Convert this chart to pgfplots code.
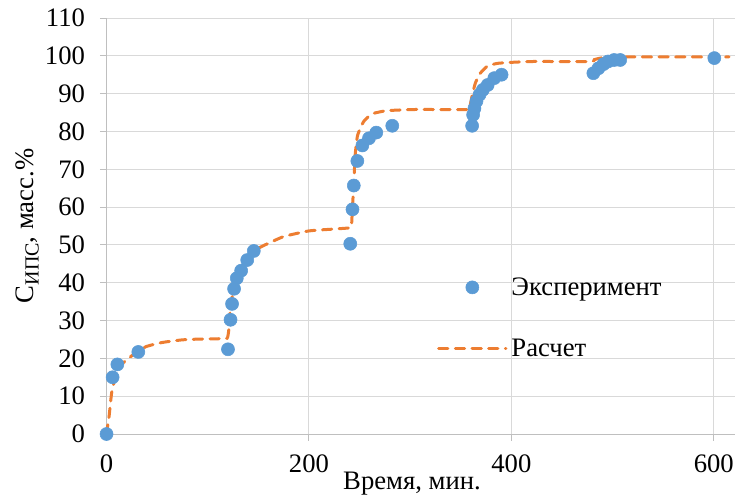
\documentclass[border=0pt]{standalone}
\usepackage{fontspec}
\setmainfont{Liberation Serif}
\usepackage{pgfplots}
\pgfplotsset{compat=1.18}
\definecolor{mblue}{HTML}{5B9BD5}
\definecolor{morange}{HTML}{ED7D31}
\definecolor{mgrid}{HTML}{D9D9D9}
\definecolor{maxis}{HTML}{BFBFBF}
\begin{document}
\begin{tikzpicture}
\begin{axis}[
  scale only axis, width=471.4pt, height=312pt,
  xmin=0, xmax=621, ymin=0, ymax=110,
  xtick={0,200,400,600}, ytick={0,10,...,110},
  axis x line=bottom, axis y line=left,
  axis line style={-, maxis, line width=0.75pt},
  grid=major, major grid style={mgrid, line width=0.75pt},
  tick align=outside, major tick length=5pt,
  tick style={maxis, line width=0.75pt},
  /pgf/number format/assume math mode=true,
  tick label style={font=\fontsize{20}{24}\selectfont, inner sep=0pt},
  yticklabel style={anchor=east, xshift=-11pt},
  xticklabel style={anchor=base, yshift=-24pt},
  xlabel={Время, мин.},
  ylabel={C\raisebox{-4pt}{\fontsize{15}{15}\selectfont ИПС}, масс.\%},
  label style={font=\fontsize{20}{24}\selectfont},
  xlabel style={at={(axis description cs:0.486,0)}, anchor=base, yshift=-41.25pt, inner sep=0pt},
  ylabel style={at={(axis description cs:-0.1167,0.5)}, anchor=base, inner sep=0pt},
  legend style={draw=none, fill=none, at={(axis cs:326.4,30.7)}, anchor=west,
    inner sep=0pt, row sep=31.2pt, column sep=3pt, nodes={inner sep=0pt},
    font=\fontsize{20}{24}\selectfont},
  legend cell align=left,
  clip=false,
]
\addplot[only marks, mark=*, mark size=4.9pt, mblue, mark options={draw=mblue, fill=mblue},
  legend image code/.code={\path[draw=none, fill=none] (0pt,-5pt) rectangle (52.5pt,5pt); \fill[mblue] (26.25pt,0pt) circle (4.9pt);}]
coordinates {
(0,0) (6,15.0) (10.7,18.4) (31.4,21.7) (120,22.4) (122.5,30.2) (124,34.4) (126,38.4)
(128.7,41.2) (133,43.2) (139,46) (145.5,48.4)
(240.8,50.3) (243,59.4) (244.3,65.7) (247.8,72.2) (252.8,76.3) (259.3,78.2) (266.5,79.7) (282.3,81.5)
(361.2,81.5) (362.2,84.4) (363.5,86.1) (365.5,88) (368.5,89.7) (371.8,91) (376.6,92.3) (383.1,94.1) (390.3,95)
(481,95.4) (486,96.7) (491,97.8) (495.5,98.5) (501.5,98.9) (507.5,98.9) (600.5,99.4)
};
\addlegendentry{Эксперимент}
\addplot[morange, line width=2.25pt, line cap=round, dash pattern=on 7pt off 5.5pt, smooth, tension=0.3,
  legend image code/.code={\draw[morange, line width=2.25pt, line cap=round, dash pattern=on 7pt off 5.5pt] (1pt,0pt) -- (51.5pt,0pt);}]
coordinates {
(0,0) (1,2) (2.5,4.6) (5,10.8) (8,14.3) (12,17) (16,18.7) (26,20.9) (39,23.1) (55,24.2) (75,24.9)
(92,25.1) (113,25.2) (119,25.3) (120,26) (121,28) (122,31.9) (124,36) (127,40) (131,43) (137,45.5)
(145,48.3) (155,49.8) (175,52.2) (200,53.7) (225,54.2) (240,54.5) (242,55) (243,60) (244.5,67)
(245.5,73.4) (247.8,78.7) (251,81) (254,82.6) (259,84) (264,84.8) (277,85.5) (303,85.8) (330,85.8)
(358,85.8) (359,86.5) (361,89.2) (364.4,92.8) (369.3,95.4) (376,97.2) (386,98) (402,98.3) (422,98.5)
(478,98.5) (482,99) (488,99.4) (495,99.6) (510,99.7) (615,99.7)
};
\addlegendentry{Расчет}
\end{axis}
\pgfresetboundingbox
\path (-79.9pt,-47.25pt) rectangle (473.6pt,325.5pt);
\end{tikzpicture}
\end{document}
